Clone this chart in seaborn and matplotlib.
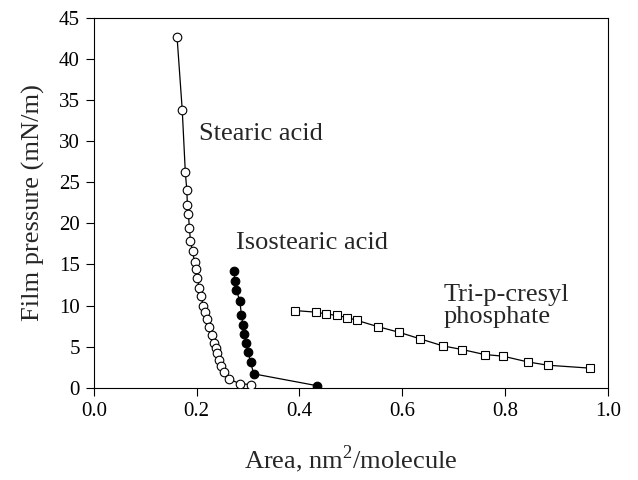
"""Surface pressure-area isotherms for three monolayers."""

import matplotlib
matplotlib.use("Agg")
import matplotlib.pyplot as plt
import pandas as pd
import seaborn as sns

# Stearic acid (open circles)
stearic_area = [0.162, 0.172, 0.178, 0.181, 0.182, 0.184, 0.186, 0.188, 0.192,
                0.196, 0.199, 0.201, 0.205, 0.208, 0.213, 0.217, 0.221, 0.224,
                0.229, 0.234, 0.237, 0.240, 0.243, 0.248, 0.253, 0.262, 0.284,
                0.306]
stearic_pressure = [42.6, 33.8, 26.2, 24.0, 22.2, 21.1, 19.4, 17.8, 16.6,
                    15.3, 14.5, 13.4, 12.2, 11.2, 10.0, 9.2, 8.4, 7.4,
                    6.4, 5.4, 4.8, 4.2, 3.4, 2.7, 1.9, 1.1, 0.5,
                    0.4]

# Isostearic acid (filled circles)
iso_area = [0.273, 0.274, 0.277, 0.284, 0.287, 0.290, 0.293, 0.296, 0.300,
            0.305, 0.311, 0.435]
iso_pressure = [14.2, 13.0, 11.9, 10.6, 8.9, 7.7, 6.6, 5.5, 4.4,
                3.1, 1.7, 0.25]

# Tri-p-cresyl phosphate (open squares)
tcp_area = [0.391, 0.432, 0.451, 0.472, 0.493, 0.512, 0.552, 0.594, 0.635,
            0.679, 0.717, 0.760, 0.796, 0.844, 0.883, 0.964]
tcp_pressure = [9.4, 9.2, 9.0, 8.8, 8.55, 8.2, 7.45, 6.75, 5.95,
                5.1, 4.65, 4.05, 3.85, 3.15, 2.75, 2.4]

x_ticks = [0.0, 0.2, 0.4, 0.6, 0.8, 1.0]
y_ticks = list(range(0, 50, 5))

sns.set_style("ticks")
plt.rcParams["font.family"] = ["Liberation Serif", "DejaVu Serif"]
plt.rcParams["mathtext.fontset"] = "custom"
plt.rcParams["mathtext.rm"] = "Liberation Serif"

fig = plt.figure(figsize=(6.38, 4.8), dpi=100)
ax = fig.add_axes([0.147, 0.192, 0.806, 0.771])

series = [
    (stearic_area, stearic_pressure, "o", "white", 6.2),
    (iso_area, iso_pressure, "o", "black", 6.2),
    (tcp_area, tcp_pressure, "s", "white", 6.0),
]
for area, pressure, marker, face, size in series:
    df = pd.DataFrame({"area": area, "pressure": pressure})
    sns.lineplot(data=df, x="area", y="pressure", ax=ax, sort=False,
                 estimator=None, color="black", linewidth=0.9,
                 marker=marker, markersize=size, markerfacecolor=face,
                 markeredgecolor="black", markeredgewidth=0.8, zorder=3)

ax.text(0.204, 30.9, "Stearic acid", fontsize=19, va="center", ha="left")
ax.text(0.277, 17.6, "Isostearic acid", fontsize=19, va="center", ha="left")
ax.text(0.680, 10.0, "Tri-p-cresyl\nphosphate", fontsize=19, va="center",
        ha="left", linespacing=1.0)

ax.set_xlim(0.0, 1.0)
ax.set_ylim(0, 45)
ax.set_xticks(x_ticks)
ax.set_xticklabels([f"{t:.1f}" for t in x_ticks])
ax.set_yticks(y_ticks)
ax.tick_params(axis="both", direction="out", length=6, width=0.8,
               labelsize=15, colors="black", pad=4)
for spine in ax.spines.values():
    spine.set_linewidth(0.8)
    spine.set_color("black")

ax.set_xlabel("Area, nm$^{2}$/molecule", fontsize=19, labelpad=16)
ax.set_ylabel("Film pressure (mN/m)", fontsize=19, labelpad=10)

fig.savefig("out.png", dpi=100)
plt.close(fig)
